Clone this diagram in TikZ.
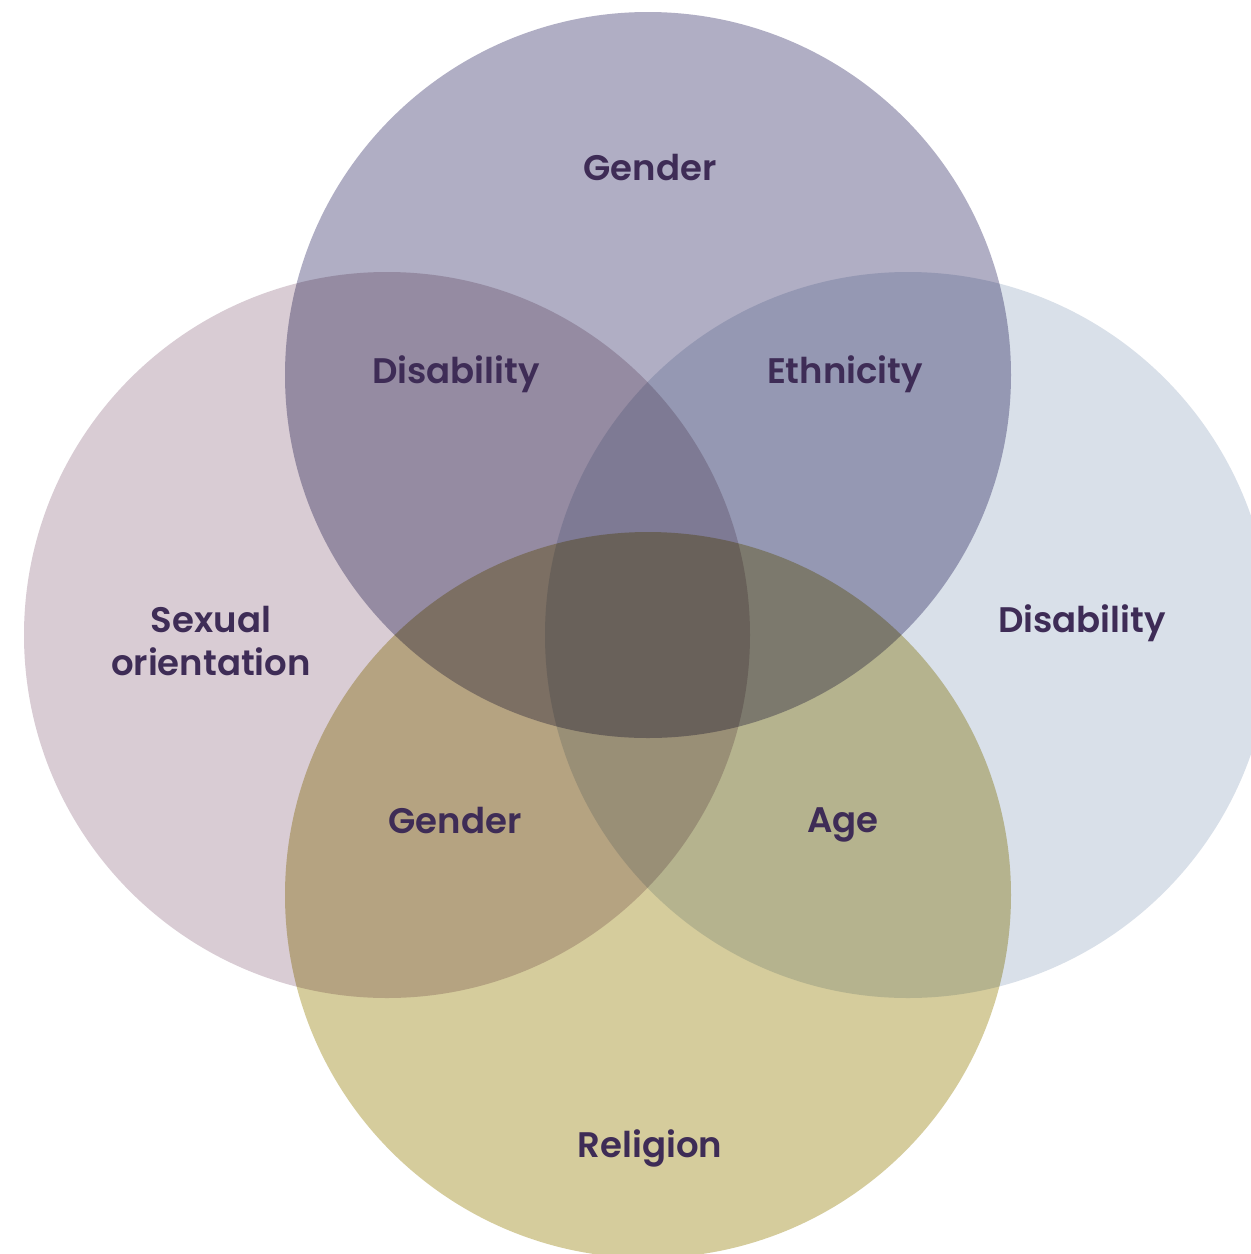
\documentclass[tikz,border=0pt]{standalone}
\usepackage{fontspec}
\setmainfont{Poppins}[UprightFont=* SemiBold]
\definecolor{ctop}{RGB}{176,174,196}
\definecolor{cleft}{RGB}{217,204,212}
\definecolor{cright}{RGB}{217,224,233}
\definecolor{cbot}{RGB}{213,204,156}
\definecolor{txt}{RGB}{62,44,86}
\tikzset{lbl/.style={text=txt,font=\fontsize{35.5}{43}\selectfont,align=center,inner sep=0pt}}
\begin{document}
\begin{tikzpicture}[x=1pt,y=-1pt]
\useasboundingbox (0,0) rectangle (1251,1254);
\fill[white] (0,0) rectangle (1251,1254);
\begin{scope}
\clip (0,0) rectangle (1251,1254);
\begin{scope}[blend group=multiply]
\fill[ctop] (648,375) circle (363);
\fill[cleft] (387,635) circle (363);
\fill[cright] (908,635) circle (363);
\fill[cbot] (648,895) circle (363);
\end{scope}
\end{scope}
\node[lbl] (g1) at (650,168) {Gender};
\node[lbl] (d1) at (456,374) {Disability};
\node[lbl] (e1) at (845,374) {Ethnicity};
\node[lbl] (so) at (211,641) {Sexual\\orientation};
\node[lbl] (d2) at (1082,623) {Disability};
\node[lbl] (g2) at (455,821) {Gender};
\node[lbl] (ag) at (843,825) {Age};
\node[lbl] (re) at (650,1148) {Religion};
\end{tikzpicture}
\end{document}
